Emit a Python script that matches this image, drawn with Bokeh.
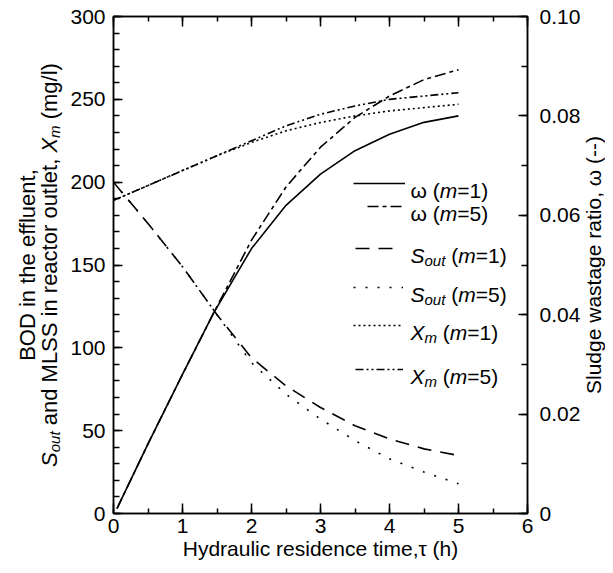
import math
from bokeh.plotting import figure
from bokeh.layouts import row
from bokeh.models import (Range1d, LinearAxis, SingleIntervalTicker, Label, Legend,
                          LegendItem, PrintfTickFormatter)
from bokeh.core.properties import value
from bokeh.embed import file_html
from bokeh.resources import INLINE

# ---------------- data ----------------
tau_w = [0.05, 0.5, 1.0, 1.45, 2.0, 2.5, 3.0, 3.5, 4.0, 4.5, 5.0]
omega_m1 = [0.001, 0.014, 0.028, 0.0403, 0.0533, 0.062, 0.0683, 0.073, 0.0763, 0.0787, 0.080]
omega_m5 = [0.001, 0.014, 0.028, 0.0403, 0.055, 0.0657, 0.0737, 0.0797, 0.084, 0.0873, 0.0893]

tau = [0.0, 0.5, 1.0, 1.5, 2.0, 2.5, 3.0, 3.5, 4.0, 4.5, 5.0]
s_out_m1 = [200, 175, 149, 120, 94, 77, 64, 53, 45, 39, 35]
s_out_m5 = [200, 175, 149, 120, 91, 72, 57, 44, 33, 25, 18]
x_m_m1 = [189, 198, 207, 216, 224, 231, 236, 240, 243, 245, 247]
x_m_m5 = [189, 198, 207, 216, 225, 234, 241, 246, 250, 252, 254]

x_ticks_interval = 1
left_ticks_interval = 50
right_ticks_interval = 0.02

FONT = "Liberation Sans"
FS = 21
SUB = 15
LFS = 22      # left axis title
LSUB = 15

# ---------------- text width helper ----------------
_fonts = {}
def text_width(s, size, italic=False):
    try:
        from PIL import ImageFont
        key = (size, italic)
        if key not in _fonts:
            _fonts[key] = ImageFont.truetype(
                "LiberationSans-Italic.ttf" if italic else "LiberationSans-Regular.ttf", size)
        return _fonts[key].getlength(s)
    except Exception:
        return 0.55 * size * len(s)

def rich(fig, pieces, x0, y0, vertical=False, fs=FS, sub=SUB, sub_off=5):
    """pieces: list of (text, italic, is_sub); (x0, y0) = baseline start, screen units of fig's frame."""
    pos = 0.0
    for txt, ital, is_sub in pieces:
        size = sub if is_sub else fs
        off = sub_off if is_sub else 0
        stripped = txt.lstrip(" ")
        pos += text_width(txt[:len(txt) - len(stripped)], size, ital)
        shown = stripped.rstrip(" ")
        if shown:
            if vertical:
                lx, ly, ang = x0 + off, y0 + pos, math.pi / 2
            else:
                lx, ly, ang = x0 + pos, y0 - off, 0
            fig.add_layout(Label(x=lx, y=ly, x_units="screen", y_units="screen", text=shown,
                                 angle=ang, text_font=FONT, text_font_size=f"{size}px",
                                 text_font_style="italic" if ital else "normal",
                                 text_color="black", text_align="left",
                                 text_baseline="alphabetic"))
        pos += text_width(stripped, size, ital)
    return pos

def rich_len(pieces, fs=FS, sub=SUB):
    return sum(text_width(t, sub if s else fs, i) for t, i, s in pieces)

# ---------------- geometry ----------------
H = 570
LEFT_W, MAIN_W, RIGHT_W = 66, 517, 22
MB_LEFT, MB_RIGHT, MB_TOP, MB_BOTTOM = 47, 55, 16, 57
FRAME_H = H - MB_TOP - MB_BOTTOM

# ---------------- main figure ----------------
p = figure(width=MAIN_W, height=H, x_range=Range1d(0, 6), y_range=Range1d(0, 300),
           output_backend="svg", toolbar_location=None,
           min_border_left=MB_LEFT, min_border_right=MB_RIGHT,
           min_border_top=MB_TOP, min_border_bottom=MB_BOTTOM)
p.extra_y_ranges = {"w": Range1d(0, 0.1)}
p.grid.visible = False
p.outline_line_color = "black"
p.outline_line_width = 1.5
p.background_fill_color = "white"
p.border_fill_color = "white"

xaxis = p.below[0]
yaxis = p.left[0]
xaxis.ticker = SingleIntervalTicker(interval=x_ticks_interval, num_minor_ticks=2)
yaxis.ticker = SingleIntervalTicker(interval=left_ticks_interval, num_minor_ticks=5)

right = LinearAxis(y_range_name="w",
                   ticker=SingleIntervalTicker(interval=right_ticks_interval, num_minor_ticks=2),
                   formatter=PrintfTickFormatter(format="%.2f"))
right.major_label_overrides = {0: "0"}
p.add_layout(right, "right")

top = LinearAxis(ticker=SingleIntervalTicker(interval=x_ticks_interval, num_minor_ticks=2))
top.major_label_overrides = {i: "" for i in range(7)}
p.add_layout(top, "above")

def style(ax, major_in, minor_in, standoff):
    ax.major_tick_in = major_in
    ax.major_tick_out = 0
    ax.minor_tick_in = minor_in
    ax.minor_tick_out = 0
    ax.axis_line_color = "black"
    ax.axis_line_width = 1.5
    ax.major_tick_line_color = "black"
    ax.minor_tick_line_color = "black"
    ax.major_tick_line_width = 1.5
    ax.minor_tick_line_width = 1.5
    ax.major_label_text_font = FONT
    ax.major_label_text_font_size = f"{FS}px"
    ax.major_label_text_color = "black"
    ax.major_label_standoff = standoff

style(xaxis, 10, 5, 5)
style(top, 10, 5, 0)
style(yaxis, 9, 6, 8)
style(right, 9, 6, 12)

xaxis.axis_label = "Hydraulic residence time,τ (h)"
xaxis.axis_label_text_font = FONT
xaxis.axis_label_text_font_size = f"{FS}px"
xaxis.axis_label_text_font_style = "normal"
xaxis.axis_label_text_color = "black"
xaxis.axis_label_standoff = 1

# ---------------- lines ----------------
LW = 1.6
r_w1 = p.line(tau_w, omega_m1, y_range_name="w", line_color="black", line_width=LW)
r_w5 = p.line(tau_w, omega_m5, y_range_name="w", line_color="black", line_width=LW,
              line_dash="11 4 4 4")
r_s1 = p.line(tau, s_out_m1, line_color="black", line_width=LW, line_dash="14 9")
r_s5 = p.line(tau, s_out_m5, line_color="black", line_width=LW, line_dash="2 10")
r_x1 = p.line(tau, x_m_m1, line_color="black", line_width=LW, line_dash="2 3")
r_x5 = p.line(tau, x_m_m5, line_color="black", line_width=LW, line_dash="8 3 2 3 2 3")

# ---------------- legend (rows positioned in frame pixels) ----------------
leg_rows = [
    (r_w1, 240, 52, 330, [("ω (", False, False), ("m", True, False), ("=1)", False, False)]),
    (r_w5, 254, 38, 307, [("ω (", False, False), ("m", True, False), ("=5)", False, False)]),
    (r_s1, 242, 38, 265, [("S", True, False), ("out", True, True), (" (", False, False),
                          ("m", True, False), ("=1)", False, False)]),
    (r_s5, 240, 50, 226, [("S", True, False), ("out", True, True), (" (", False, False),
                          ("m", True, False), ("=5)", False, False)]),
    (r_x1, 240, 50, 188, [("X", True, False), ("m", True, True), (" (", False, False),
                          ("m", True, False), ("=1)", False, False)]),
    (r_x5, 242, 48, 144, [("X", True, False), ("m", True, True), (" (", False, False),
                          ("m", True, False), ("=5)", False, False)]),
]
for r, gx, gw, gy, pieces in leg_rows:
    leg = Legend(items=[LegendItem(label=value(" "), renderers=[r])],
                 location=(gx, gy - 5), padding=0, margin=0, spacing=0,
                 border_line_color=None, background_fill_alpha=0,
                 glyph_width=gw, glyph_height=10, label_standoff=0,
                 label_width=0, label_height=10, label_text_font_size="1px")
    p.add_layout(leg)
    rich(p, pieces, 297, gy - 7)

# ---------------- title strips (frames aligned with the main frame) ----------------
def strip_fig(w):
    f = figure(width=w, height=H, x_range=Range1d(0, w), y_range=Range1d(0, FRAME_H),
               output_backend="svg", toolbar_location=None,
               x_axis_location=None, y_axis_location=None,
               min_border_left=0, min_border_right=0,
               min_border_top=MB_TOP, min_border_bottom=MB_BOTTOM)
    f.grid.visible = False
    f.outline_line_color = None
    f.background_fill_color = "white"
    f.border_fill_color = "white"
    return f

lf = strip_fig(LEFT_W)
lf.add_layout(Label(x=27, y=FRAME_H / 2, x_units="screen", y_units="screen",
                    text="BOD in the effluent,", text_font=FONT, angle=math.pi / 2,
                    text_font_size=f"{LFS}px", text_align="center", text_baseline="alphabetic",
                    text_color="black"))
line2 = [("S", True, False), ("out", True, True), (" and MLSS in reactor outlet, ", False, False),
         ("X", True, False), ("m", True, True), (" (mg/l)", False, False)]
L2 = rich_len(line2, LFS, LSUB)
rich(lf, line2, 49, FRAME_H / 2 - L2 / 2, vertical=True, fs=LFS, sub=LSUB, sub_off=5)

rf = strip_fig(RIGHT_W)
rf.add_layout(Label(x=10, y=FRAME_H / 2, x_units="screen", y_units="screen",
                    text="Sludge wastage ratio, ω (--)", text_font=FONT, angle=math.pi / 2,
                    text_font_size=f"{FS}px", text_align="center", text_baseline="middle",
                    text_color="black"))

layout = row(lf, p, rf, spacing=0)
open("out.html", "w").write(file_html(layout, INLINE))
